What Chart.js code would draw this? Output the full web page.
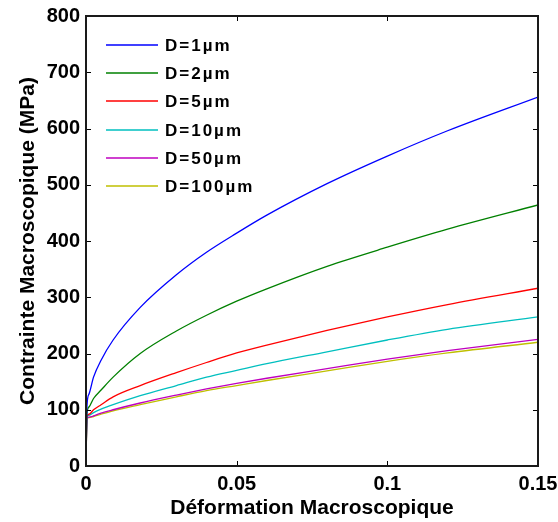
<!DOCTYPE html>
<html>
<head>
<meta charset="utf-8">
<script src="https://cdn.jsdelivr.net/npm/chart.js@4"></script>
<style>
  html, body { margin: 0; padding: 0; background: #fff; }
  #wrap { width: 558px; height: 522px; }
</style>
</head>
<body>
<div id="wrap"><canvas id="stressChart" width="558" height="522"></canvas></div>
<script>
// strain values (x) and macroscopic stress (MPa) per grain size
const strain = [0, 0.0003, 0.001, 0.0025, 0.005, 0.009, 0.018, 0.03, 0.04, 0.05, 0.06, 0.08, 0.10, 0.12, 0.15];
const d1   = [0, 105, 128, 158, 188, 224, 282, 340, 380, 414, 446, 502, 551, 596, 656];
const d2   = [0, 92, 105, 120, 135, 158, 200, 240, 268, 293, 315, 355, 389, 421, 464];
const d5   = [0, 88, 92, 100, 109, 123, 143, 166, 184, 201, 215, 241, 265, 287, 316];
const d10  = [0, 87, 90, 95, 101, 109, 125, 143, 158, 170, 182, 203, 224, 243, 265];
const d50  = [0, 86, 87, 89, 94, 100, 112, 126, 137, 147, 156, 173, 190, 205, 225];
const d100 = [0, 85, 86, 88, 92, 98, 109, 123, 134, 143, 152, 169, 186, 201, 220];
const labels = ['D=1\u00b5m', 'D=2\u00b5m', 'D=5\u00b5m', 'D=10\u00b5m', 'D=50\u00b5m', 'D=100\u00b5m'];
const colors = ['#0000ff', '#008000', '#ff0000', '#00bfbf', '#bf00bf', '#bfbf00'];
const xTicks = [0, 0.05, 0.1, 0.15];

const FONT = "'Liberation Sans', Arial, sans-serif";
const series = [d1, d2, d5, d10, d50, d100];

// box around plot with inward ticks (matlab style)
const boxPlugin = {
    id: 'box',
    afterDatasetsDraw(chart) {
        const ctx = chart.ctx;
        const { left, right, top, bottom } = chart.chartArea;
        const xs = chart.scales.x, ys = chart.scales.y;
        ctx.save();
        ctx.strokeStyle = '#000';
        ctx.lineWidth = 1;
        ctx.beginPath();
        xs.ticks.forEach(t => {
            const px = Math.round(xs.getPixelForValue(t.value)) + 0.5;
            ctx.moveTo(px, bottom); ctx.lineTo(px, bottom - 5);
            ctx.moveTo(px, top); ctx.lineTo(px, top + 5);
        });
        ys.ticks.forEach(t => {
            const py = Math.round(ys.getPixelForValue(t.value)) + 0.5;
            ctx.moveTo(left, py); ctx.lineTo(left + 5, py);
            ctx.moveTo(right, py); ctx.lineTo(right - 5, py);
        });
        ctx.stroke();
        ctx.lineWidth = 2;
        ctx.strokeStyle = '#1a1a1a';
        ctx.strokeRect(left, top, right - left, bottom - top);
        ctx.restore();
    }
};

// legend drawn inside plot, no frame
const legendPlugin = {
    id: 'inLegend',
    afterDatasetsDraw(chart) {
        const ctx = chart.ctx;
        const { left, top } = chart.chartArea;
        ctx.save();
        ctx.font = 'bold 17px ' + FONT;
        ctx.letterSpacing = '2px';
        ctx.textBaseline = 'middle';
        ctx.fillStyle = '#000';
        chart.data.datasets.forEach((ds, i) => {
            const y = Math.round(top + 29 + i * 28.2);
            ctx.strokeStyle = ds.borderColor;
            ctx.lineWidth = 1.5;
            ctx.beginPath();
            ctx.moveTo(left + 20, y);
            ctx.lineTo(left + 72, y);
            ctx.stroke();
            ctx.fillText(ds.label, left + 79, y + 1);
        });
        ctx.restore();
    }
};

new Chart(document.getElementById('stressChart'), {
    type: 'line',
    data: {
        datasets: series.map((vals, i) => ({
            label: labels[i],
            data: strain.map((s, j) => ({ x: s, y: vals[j] })),
            borderColor: colors[i],
            borderWidth: 1.3,
            pointRadius: 0,
            fill: false,
            cubicInterpolationMode: 'monotone'
        }))
    },
    options: {
        responsive: false,
        animation: false,
        layout: { padding: { left: 0, top: 16, right: 20, bottom: 0 } },
        plugins: { legend: { display: false }, tooltip: { enabled: false } },
        scales: {
            x: {
                type: 'linear', min: 0, max: 0.15,
                afterBuildTicks: s => { s.ticks = xTicks.map(v => ({ value: v })); },
                afterFit: s => { s.height = 56; s.paddingLeft = 0; s.paddingRight = 0; },
                grid: { display: false, drawTicks: false },
                border: { display: false },
                ticks: {
                    color: '#000', padding: 6,
                    font: { family: FONT, size: 20, weight: 'bold' },
                    callback: v => String(+v.toFixed(2))
                },
                title: {
                    display: true, text: 'Déformation Macroscopique', color: '#000',
                    font: { family: FONT, size: 21, weight: 'bold' },
                    padding: { top: 0, bottom: 1 }
                }
            },
            y: {
                min: 0, max: 800,
                afterFit: s => { s.width = 86; s.paddingTop = 0; s.paddingBottom = 0; },
                grid: { display: false, drawTicks: false },
                border: { display: false },
                ticks: {
                    color: '#000', padding: 6, stepSize: 100,
                    font: { family: FONT, size: 20, weight: 'bold' }
                },
                title: {
                    display: true, text: 'Contrainte Macroscopique (MPa)', color: '#000',
                    font: { family: FONT, size: 21, weight: 'bold' },
                    padding: { top: 16, bottom: 0 }
                }
            }
        }
    },
    plugins: [boxPlugin, legendPlugin]
});
</script>
</body>
</html>
